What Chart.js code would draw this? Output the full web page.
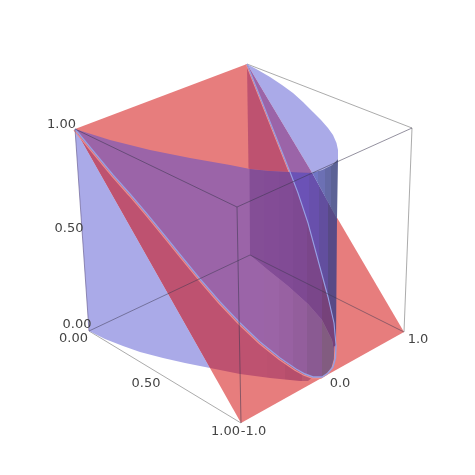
<!DOCTYPE html>
<html><head><meta charset="utf-8">
<style>html,body{margin:0;padding:0;background:#fff}canvas{display:block}</style>
<script src="https://cdn.jsdelivr.net/npm/chart.js@4"></script></head>
<body><canvas id="c" width="475" height="475"></canvas>
<script>
// Outlines, in a 0..475 plane
const cornerA=[75,129], cornerB=[247,64], cornerC=[412,128], cornerD=[237,207];
const cornerE=[89,331], cornerF=[241,423], cornerG=[404,332], cornerH=[250,255];
const capFront=[[75,129],[110,140],[150,150],[190,158],[230,165],[250,169],[270,171],[290,172]];
const capRight=[[290,172],[312,172.5],[322,170],[332,165],[338,159]];
const capArc=[[247,64],[258,70],[270,77],[282,85],[293,93],[303,102],[313,112],[321,120],[328,128],[333,135],[336.5,143],[338,150],[338,159]];
const floorLeft=[[89,331],[105,339],[123,346],[140,352],[163,358],[185,363],[210,368]];
const floorRight=[[210,368],[240,374],[270,378],[300,381],[308,381],[313,377]];
const lensLow=[[75,129],[94,152],[113,175],[130,194],[147,214],[165,236],[182,257],[200,279],[220,302],[240,323],[260,342],[280,358],[296,369],[305,374],[313,377]];
const lensTurn=[[313,377],[322,377],[328,373],[333,367],[335.5,358],[336,345]];
const lensUp=[[336,345],[334,323],[328,297],[318,260],[308,223],[298,193],[290,172],[247,64]];
const wallEdge=[[250,255],[268,270],[288,286],[308,304],[322,320],[332,340],[335,357]];
const tickText=["1.00","0.50","0.00","0.00","0.50","1.00","-1.0","0.0","1.0"];
const tickSpot=[[61.5,124.5],[69,228.5],[77,325],[73.5,339],[146,384],[225.5,432],[253.5,432],[340,384],[418,340]];

const ctx=document.getElementById('c').getContext('2d');
function bands(x0,x1,cols){
  const g=ctx.createLinearGradient(x0,0,x1,0);
  cols.forEach((c,i)=>{g.addColorStop(i/cols.length,c);g.addColorStop((i+1)/cols.length,c);});
  return g;
}
const pts=a=>a.map(p=>({x:p[0],y:p[1]}));
const rev=a=>a.slice().reverse();
const sets=[];
function area(a,color){sets.push({data:pts(a.concat([a[0]])),showLine:true,fill:'shape',backgroundColor:color,borderWidth:0,borderColor:'transparent',pointRadius:0,tension:0,clip:false});}
function line(a,color,w){sets.push({data:pts(a),showLine:true,fill:false,borderColor:color,borderWidth:w,pointRadius:0,tension:0,clip:false});}
const shift=(a,dx,dy)=>a.map(p=>[p[0]+dx,p[1]+dy]);

const RED='rgb(231,125,125)',BLUE='rgb(170,170,232)',CRIM='rgb(190,82,112)',PURP='rgb(155,100,168)';
const lensUpper=lensUp.slice(0,-1); // portion below the cap
// box back edges
line([cornerB,cornerC,cornerG],'rgba(150,150,150,.8)',1);
line([cornerE,cornerF],'rgba(150,150,150,.8)',1);
// red plane
area([cornerA,cornerB,cornerG,cornerF],RED);
// blue sheet over white
area([cornerA,...floorLeft],BLUE);
// crimson band
area([cornerA,...floorRight,...rev(lensLow).slice(1,-1)],bands(250,320,['rgb(190,82,112)','rgb(188,81,111)','rgb(182,78,108)','rgb(186,88,112)']));
// purple lens
area([...capFront,...rev(lensUpper).slice(1),...rev(lensTurn).slice(1),...rev(lensLow).slice(1,-1)],PURP);
// crimson wedge above cap
area([cornerB,[290,172],[270,171],[250,169],[248.5,168.5]],CRIM);
// light cap
area([...capArc,...rev(capRight).slice(1,-1)],BLUE);
area([cornerB,capRight[1],capRight[0]],PURP);
// inner dark wall
area([[249.5,169],[270,171],[290,172],...rev(lensUpper).slice(1),...rev(wallEdge)],
  bands(250,336,['rgb(132,78,150)','rgb(131,76,150)','rgb(129,75,149)','rgb(126,73,146)','rgb(122,70,138)','rgb(118,66,122)']));
// wall right of lens, below red edge
area([capRight[0],capRight[1],[337,218],[336,345],...lensUpper.slice(1,-1)],bands(300,338,['rgb(107,82,182)','rgb(104,80,172)','rgb(98,78,158)','rgb(88,74,134)']));
// wall right of red edge
area([...capRight.slice(1),[337,219]],bands(312,338,['rgb(112,118,195)','rgb(108,112,180)','rgb(100,105,165)','rgb(92,98,150)']));
// floor seen through lens
area([...wallEdge,...rev(lensTurn).slice(1,-1),...rev(lensLow).slice(0,5),[250,333]],
  bands(250,336,['rgb(155,100,168)','rgb(155,100,166)','rgb(152,97,162)','rgb(147,94,156)','rgb(138,90,146)','rgb(130,92,128)']));
// seam highlights
const seam=lensLow.concat(lensTurn.slice(1));
line(shift(seam,-1,1.2),'rgb(236,140,140)',1.3);
line(seam,'rgb(150,160,228)',1.4);
line(shift(lensUp,-1,0).slice(-2),'rgb(236,150,150)',1);
line(lensUp,'rgb(150,160,228)',1.1);
// box front edges, seen through the surfaces
line([cornerA,cornerD,cornerC],'rgba(60,55,80,.55)',1);
line([cornerD,cornerF],'rgba(60,55,80,.55)',1);
line([cornerE,cornerH,cornerG],'rgba(60,55,80,.5)',1);
line([cornerA,cornerE],'rgba(110,100,150,.7)',1);
sets.forEach((s,i)=>{s.order=sets.length-i;});

const tickPlugin={id:'ticks',afterDraw(ch){
  const c=ch.ctx;c.save();c.font='13px "DejaVu Sans"';c.fillStyle='#444';c.textAlign='center';c.textBaseline='middle';
  tickText.forEach((t,i)=>c.fillText(t,ch.scales.x.getPixelForValue(tickSpot[i][0]),ch.scales.y.getPixelForValue(tickSpot[i][1])));
  c.restore();}};
new Chart(ctx,{type:'scatter',data:{datasets:sets},plugins:[tickPlugin],options:{
  responsive:false,animation:false,layout:{padding:0},
  plugins:{legend:{display:false},tooltip:{enabled:false},title:{display:false}},
  scales:{x:{type:'linear',min:0,max:475,display:false},y:{type:'linear',min:0,max:475,reverse:true,display:false}}
}});
</script></body></html>
